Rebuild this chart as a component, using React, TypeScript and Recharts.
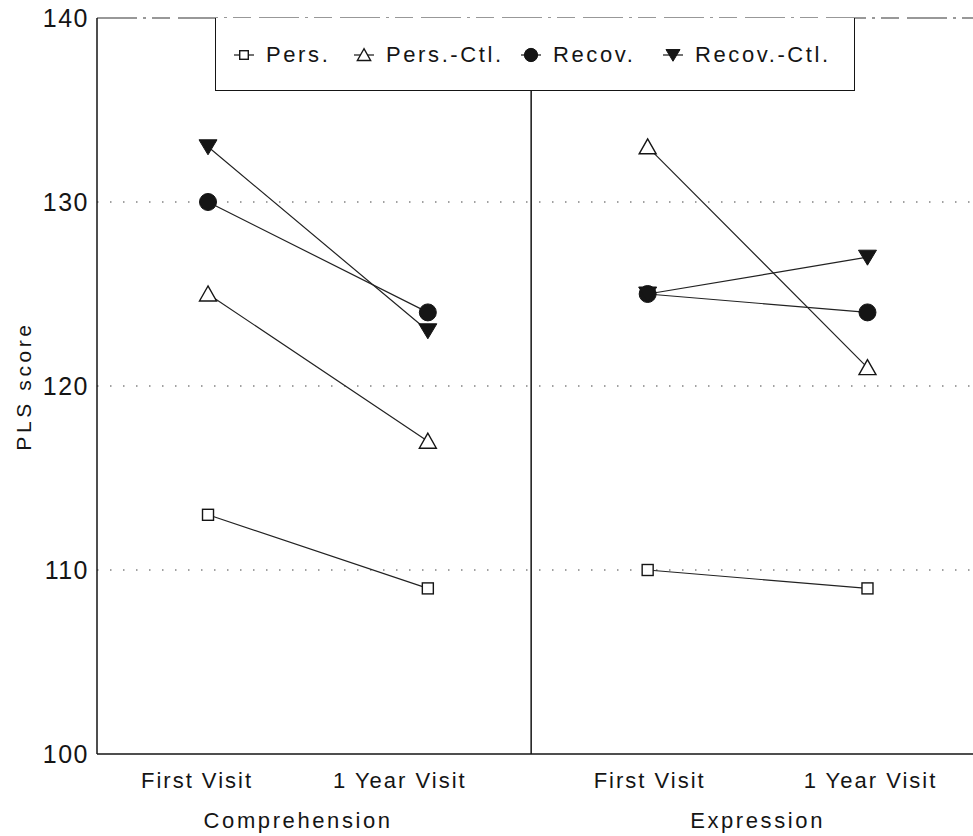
import React from 'react';
import { LineChart, Line, XAxis, YAxis, ReferenceLine, Legend, Label } from 'recharts';

// ---- data ----
const visitLabels = ['First Visit', '1 Year Visit', 'First Visit', '1 Year Visit'];
const visitPositions = [0, 1, 2, 3];
const panelLabels = ['Comprehension', 'Expression'];
const panelPositions = [0.41, 2.5];
const dividerPosition = 1.47;
const yTicks = [100, 110, 120, 130, 140];
const gridValues = [110, 120, 130];

// order: Comprehension First, Comprehension 1yr, Expression First, Expression 1yr
const pers = [113, 109, 110, 109];
const persCtl = [125, 117, 133, 121];
const recov = [130, 124, 125, 124];
const recovCtl = [133, 123, 125, 127];

const seriesDefs = [
  { key: 'pers', name: 'Pers.', marker: 'square', values: pers },
  { key: 'persCtl', name: 'Pers.-Ctl.', marker: 'triangle', values: persCtl },
  { key: 'recov', name: 'Recov.', marker: 'circle', values: recov },
  { key: 'recovCtl', name: 'Recov.-Ctl.', marker: 'downTriangle', values: recovCtl },
];

// legend item left offsets inside the legend box (styling only)
const legendItemLeft = [16, 136, 303, 445];

// build rows; a null row between panels breaks each line
const rows: any[] = [];
visitPositions.forEach((x, i) => {
  if (i === 2) {
    const br: any = { x: dividerPosition };
    seriesDefs.forEach((s) => (br[s.key] = null));
    rows.push(br);
  }
  const r: any = { x };
  seriesDefs.forEach((s) => (r[s.key] = s.values[i]));
  rows.push(r);
});

const FONT = '"Liberation Sans", Arial, Helvetica, sans-serif';
const INK = '#151515';

function Marker({ type, cx, cy, scale = 1 }: { type: string; cx: number; cy: number; scale?: number }) {
  const sw = 1.4;
  const k = scale;
  if (type === 'square') {
    return <rect x={cx - 5.5 * k} y={cy - 5.5 * k} width={11 * k} height={11 * k} fill="#fff" stroke={INK} strokeWidth={sw} />;
  }
  if (type === 'triangle') {
    return (
      <polygon
        points={`${cx},${cy - 8 * k} ${cx - 8.5 * k},${cy + 7 * k} ${cx + 8.5 * k},${cy + 7 * k}`}
        fill="#fff"
        stroke={INK}
        strokeWidth={sw}
      />
    );
  }
  if (type === 'circle') {
    return <circle cx={cx} cy={cy} r={8.5 * k} fill={INK} stroke={INK} strokeWidth={1} />;
  }
  return (
    <polygon
      points={`${cx - 9 * k},${cy - 7 * k} ${cx + 9 * k},${cy - 7 * k} ${cx},${cy + 8 * k}`}
      fill={INK}
      stroke={INK}
      strokeWidth={1}
    />
  );
}

const visitOffsets = [-11, -28, 2, 3];

function VisitTick(props: any) {
  const { x, y, payload, index } = props;
  const i = visitPositions.indexOf(payload.value);
  return (
    <text
      x={x + (visitOffsets[i] ?? 0)}
      y={y}
      dy={26}
      textAnchor="middle"
      fontFamily={FONT}
      fontSize={22}
      letterSpacing={2}
      fill={INK}
    >
      {visitLabels[i >= 0 ? i : index]}
    </text>
  );
}

function PanelTick(props: any) {
  const { x, y, payload, index } = props;
  const i = panelPositions.indexOf(payload.value);
  return (
    <text
      x={x}
      y={y}
      dy={24}
      textAnchor="middle"
      fontFamily={FONT}
      fontSize={22}
      letterSpacing={2.6}
      fill={INK}
    >
      {panelLabels[i >= 0 ? i : index]}
    </text>
  );
}

function LegendBox() {
  return (
    <div
      style={{
        position: 'relative',
        width: 640,
        height: 73,
        boxSizing: 'border-box',
        borderLeft: `1.5px solid ${INK}`,
        borderRight: `1.5px solid ${INK}`,
        borderBottom: `1px solid ${INK}`,
        fontFamily: FONT,
        fontSize: 22,
        letterSpacing: 2.6,
        color: INK,
        background: '#fff',
        whiteSpace: 'nowrap',
      }}
    >
      {seriesDefs.map((s, i) => (
        <div
          key={s.key}
          style={{
            position: 'absolute',
            left: legendItemLeft[i],
            top: 24,
            display: 'flex',
            alignItems: 'center',
            lineHeight: '26px',
          }}
        >
          <svg width={24} height={22} style={{ marginRight: 10 }}>
            <line x1={2} y1={11} x2={22} y2={11} stroke={INK} strokeWidth={1.2} />
            <Marker type={s.marker} cx={12} cy={11} scale={0.78} />
          </svg>
          <span>{s.name}</span>
        </div>
      ))}
    </div>
  );
}

export default function App() {
  return (
    <div style={{ position: 'absolute', left: 0, top: 0, width: 973, height: 836, background: '#fff' }}>
      <LineChart
        width={973}
        height={836}
        data={rows}
        margin={{ top: 18, right: 0, bottom: 0, left: 0 }}
      >
        <XAxis
          dataKey="x"
          type="number"
          domain={[-0.505, 3.48]}
          allowDataOverflow
          ticks={visitPositions}
          interval={0}
          tickLine={false}
          axisLine={{ stroke: INK, strokeWidth: 1.5 }}
          tick={<VisitTick />}
          height={42}
        />
        <XAxis
          xAxisId="panel"
          dataKey="x"
          type="number"
          domain={[-0.505, 3.48]}
          allowDataOverflow
          ticks={panelPositions}
          interval={0}
          tickLine={false}
          axisLine={false}
          tick={<PanelTick />}
          height={40}
        />
        <YAxis
          type="number"
          domain={[100, 140]}
          ticks={yTicks}
          interval={0}
          width={97}
          tickLine={false}
          axisLine={{ stroke: INK, strokeWidth: 1.5 }}
          tick={{ fontFamily: FONT, fontSize: 25, fill: INK, letterSpacing: 1.5 }}
        >
          <Label
            value="PLS score"
            angle={-90}
            position="center"
            dx={-25}
            style={{ fontFamily: FONT, fontSize: 21, fill: INK, letterSpacing: 3.6, textAnchor: 'middle' }}
          />
        </YAxis>
        {gridValues.map((v) => (
          <ReferenceLine key={v} y={v} stroke="#444" strokeWidth={1.2} strokeDasharray="1.5 11.5" />
        ))}
        <ReferenceLine y={140} stroke="#333" strokeWidth={1.2} strokeDasharray="40 6 3 6 18 8" />
        <ReferenceLine x={dividerPosition} stroke={INK} strokeWidth={1.5} />
        {seriesDefs.map((s) => (
          <Line
            key={s.key}
            dataKey={s.key}
            name={s.name}
            type="linear"
            stroke="#222"
            strokeWidth={1.2}
            isAnimationActive={false}
            activeDot={false}
            dot={(p: any) => {
              if (p.cx == null || p.cy == null || p.value == null) return <g key={`${s.key}-${p.index}`} />;
              return (
                <g key={`${s.key}-${p.index}`}>
                  <Marker type={s.marker} cx={p.cx} cy={p.cy} />
                </g>
              );
            }}
          />
        ))}
        <Legend
          layout="vertical"
          align="center"
          verticalAlign="middle"
          wrapperStyle={{ left: 215, top: 18, width: 640, height: 73 }}
          content={() => <LegendBox />}
        />
      </LineChart>
    </div>
  );
}
